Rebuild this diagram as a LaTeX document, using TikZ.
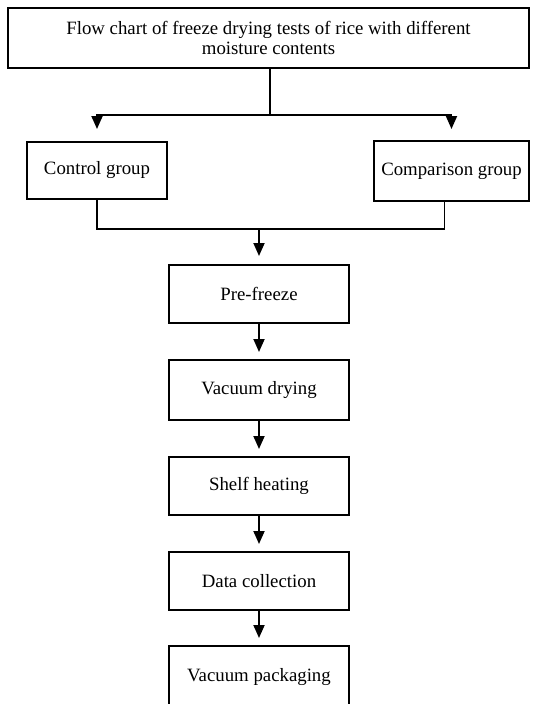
\documentclass[tikz,border=0pt]{standalone}
\usepackage{fontspec}
\setmainfont{Liberation Serif}
\usetikzlibrary{arrows.meta, calc, positioning}

\begin{document}
\begin{tikzpicture}[> = {Triangle[width=11pt,length=13pt]}, x=1pt, y=-1pt,
	box/.style = {draw, line width=2pt, minimum width=180pt, minimum height=58pt, inner sep=1pt, font=\fontsize{18.8}{20}\selectfont},
	link/.style = {line width=1.8pt},
	flow/.style = {->, line width=1.8pt, shorten >=7pt}]
	\useasboundingbox (0,0) rectangle (534,704);

	% title
	\node[box, minimum width=521pt, minimum height=60pt, align=center] (title) at (268.5,38) {Flow chart of freeze drying tests of rice with different\\moisture contents};

	% the two groups
	\node[box, minimum width=140pt, minimum height=57pt] (ctrl) at (97,170.5) {Control group};
	\node[box, minimum width=155pt, minimum height=60pt, inner xsep=0pt] (comp) at (451.5,171) {Comparison group};

	% steps of the test
	\node[box] (prefreeze) at (259,294) {Pre-freeze};
	\node[box, minimum height=60pt] (vacdry) at (259,390) {Vacuum drying};
	\node[box] (shelf) at (259,486) {Shelf heating};
	\node[box] (data) at (259,581) {Data collection};
	\node[box, minimum height=62pt] (pack) at (259,677) {Vacuum packaging};

	% split to the groups
	\coordinate (split) at (270,115);
	\draw[link] (split |- title.south) -- (split);
	\draw[flow, shorten >=12pt] (split) -| (ctrl.north);
	\draw[flow, shorten >=11pt] (split) -| (comp.north);

	% merge of the groups
	\coordinate (merge) at (259,229);
	\draw[link] (ctrl.south) |- (merge);
	\draw[link] ([xshift=-7pt]comp.south) |- (merge);
	\draw[flow, shorten >=8pt] (merge) -- (prefreeze.north);

	% chain of steps
	\draw[flow] (prefreeze) -- (vacdry);
	\draw[flow] (vacdry) -- (shelf);
	\draw[flow] (shelf) -- (data);
	\draw[flow] (data) -- (pack);
\end{tikzpicture}
\end{document}
